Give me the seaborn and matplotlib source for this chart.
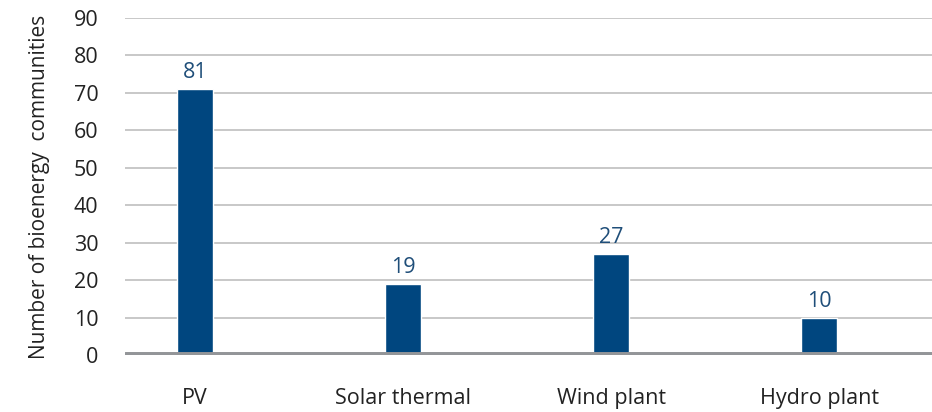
import matplotlib
matplotlib.use("Agg")
import matplotlib.pyplot as plt
import seaborn as sns
import pandas as pd

categories = ["PV", "Solar thermal", "Wind plant", "Hydro plant"]
bar_values = [71, 19, 27, 10]
value_labels = ["81", "19", "27", "10"]
y_ticks = [0, 10, 20, 30, 40, 50, 60, 70, 80, 90]

sns.set_theme(style="white")
plt.rcParams['font.family'] = ['Open Sans', 'DejaVu Sans']

df = pd.DataFrame({"category": categories, "value": bar_values})

fig = plt.figure(figsize=(9.32, 4.12), dpi=100)
ax = fig.add_axes([125 / 932, (412 - 355) / 412, (932 - 125) / 932, (355 - 18) / 412])

sns.barplot(data=df, x="category", y="value", color="#00467F", width=0.173,
            saturation=1, ax=ax, zorder=3)

ax.set_ylim(0, 90)
ax.set_xlim(-0.337, 3.543)
ax.set_yticks(y_ticks)
for t in y_ticks[1:]:
    ax.axhline(t, color="#BFBFBF", lw=1.2, zorder=1)
ax.axhline(0, color="#939598", lw=5, zorder=4)

for i, lab in enumerate(value_labels):
    ax.text(i, bar_values[i] + 1.6, lab, ha="center", va="bottom",
            fontsize=15.5, color="#1F4E79")

for s in ax.spines.values():
    s.set_visible(False)
ax.tick_params(axis="both", length=0, labelsize=15.5, colors="#222222")
ax.tick_params(axis="x", pad=24)
ax.tick_params(axis="y", pad=19)
ax.set_xlabel("")
ax.set_ylabel("Number of bioenergy  communities", fontsize=15, color="#222222", labelpad=17)

fig.savefig("out.png", dpi=100)
